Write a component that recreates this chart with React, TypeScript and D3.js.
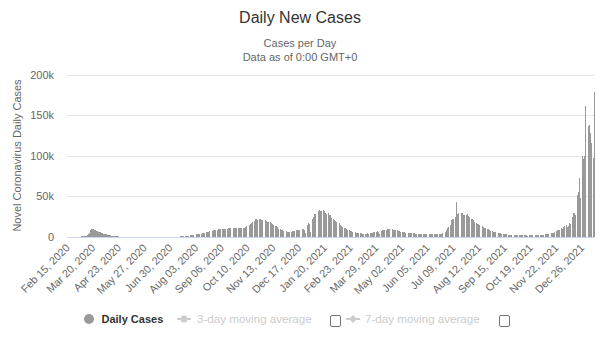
import React from 'react';
import * as d3 from 'd3';

// Daily new cases, in thousands, one row per week (Sat..Fri), starting Sat Feb 15, 2020
const START_DATE = '2020-02-15';
const dailyCasesK: number[] = [
  0, 0, 0, 0, 0, 0, 0,
  0, 0, 0, 0, 0, 0, 0,
  0, 0, 0, 0, 0, 0.1, 0.1,
  0.1, 0.2, 0.3, 0.5, 0.8, 1.2, 1.8,
  3.0, 4.5, 6.0, 7.5, 8.8, 9.4, 8.6,
  8.9, 7.9, 7.5, 7.0, 6.8, 6.3, 5.8,
  5.4, 5.0, 4.6, 4.4, 4.0, 3.7, 3.4,
  3.2, 2.9, 2.7, 2.4, 2.2, 2.0, 1.8,
  1.6, 1.4, 1.2, 1.1, 0.9, 0.8, 0.7,
  0.5, 0.4, 0.3, 0.2, 0.2, 0, 0,
  0, 0, 0, 0, 0, 0, 0,
  0, 0, 0, 0, 0, 0, 0,
  0, 0, 0, 0, 0, 0, 0,
  0, 0, 0, 0, 0, 0, 0,
  0, 0, 0, 0, 0, 0, 0,
  0, 0, 0, 0, 0, 0, 0,
  0, 0, 0, 0, 0, 0, 0,
  0, 0, 0, 0, 0, 0, 0,
  0, 0, 0, 0, 0, 0, 0,
  0, 0, 0, 0, 0, 0, 0,
  0, 0, 0, 0, 0, 0, 0,
  0, 0, 0.4, 0.5, 0.5, 0.6, 0.6,
  0, 0, 0.8, 0.9, 1.0, 1.1, 1.2,
  0, 0, 1.4, 1.5, 1.7, 1.9, 2.0,
  0, 0, 2.3, 2.5, 2.7, 2.9, 3.2,
  0, 0, 3.5, 3.7, 4.0, 4.3, 4.6,
  0, 0, 5.0, 5.4, 5.8, 6.1, 6.4,
  0, 0, 6.8, 7.2, 7.5, 7.8, 8.1,
  0, 0, 8.4, 8.6, 8.8, 9.0, 9.2,
  0, 0, 9.4, 9.3, 9.6, 9.8, 9.5,
  0, 0, 9.8, 10.1, 10.3, 10.0, 10.5,
  0, 0, 9.6, 10.2, 10.5, 10.0, 10.4,
  0, 0, 10.2, 10.0, 10.6, 10.3, 10.0,
  0, 0, 10.5, 11.0, 11.5, 12.0, 12.5,
  0, 0, 13.0, 14.5, 15.5, 16.5, 17.5,
  0, 0, 19.0, 20.5, 21.5, 21.0, 20.0,
  0, 0, 21.5, 21.0, 20.5, 20.0, 19.5,
  0, 0, 20.0, 19.5, 19.0, 18.0, 17.5,
  0, 0, 18.5, 17.0, 16.0, 15.0, 14.0,
  0, 0, 13.5, 12.5, 11.5, 10.5, 9.5,
  0, 0, 9.0, 8.0, 7.5, 7.0, 6.5,
  0, 0, 6.5, 6.0, 5.8, 5.5, 5.5,
  0, 0, 6.0, 6.5, 7.0, 7.0, 6.8,
  0, 0, 7.5, 8.0, 8.5, 8.0, 8.2,
  0, 0, 9.0, 9.5, 9.8, 8.5, 4.0,
  0, 0, 14.0, 16.0, 17.0, 15.0, 5.0,
  0, 0, 22.0, 24.0, 26.0, 27.5, 28.0,
  0, 0, 30.0, 31.5, 33.0, 32.0, 31.0,
  0, 0, 32.5, 31.0, 30.5, 29.0, 28.0,
  0, 0, 29.0, 27.0, 26.0, 24.5, 23.0,
  0, 0, 22.0, 20.0, 19.0, 18.0, 17.0,
  0, 0, 16.5, 15.0, 14.0, 13.0, 12.0,
  0, 0, 11.0, 10.0, 9.5, 9.0, 8.0,
  0, 0, 7.5, 7.0, 6.5, 6.0, 5.5,
  0, 0, 5.0, 4.8, 4.5, 4.2, 4.0,
  0, 0, 4.0, 3.8, 3.6, 3.5, 3.4,
  0, 0, 3.5, 3.6, 4.0, 3.8, 3.5,
  0, 0, 4.2, 4.5, 4.8, 5.0, 5.0,
  0, 0, 5.5, 6.0, 6.2, 5.0, 3.0,
  0, 0, 6.5, 7.5, 8.0, 8.5, 8.2,
  0, 0, 8.5, 9.0, 9.2, 8.8, 8.5,
  0, 0, 8.8, 9.0, 8.5, 8.0, 7.5,
  0, 0, 7.5, 7.0, 6.5, 6.5, 6.0,
  0, 0, 5.5, 5.0, 5.0, 4.5, 4.5,
  0, 0, 4.5, 4.2, 4.0, 4.0, 3.8,
  0, 0, 4.0, 3.8, 3.6, 3.5, 3.4,
  0, 0, 3.5, 3.4, 3.2, 3.0, 3.0,
  0, 0, 3.2, 3.0, 3.0, 2.8, 2.8,
  0, 0, 3.0, 3.0, 2.8, 2.8, 2.6,
  0, 0, 2.8, 2.8, 2.6, 2.6, 2.5,
  0, 0, 3.0, 3.2, 3.5, 3.8, 4.0,
  0, 0, 4.5, 6.0, 8.0, 10.0, 12.0,
  0, 0, 14.0, 17.0, 20.0, 21.0, 22.0,
  0, 0, 24.0, 42.0, 28.0, 29.0, 28.0,
  0, 0, 29.5, 28.0, 29.0, 27.0, 26.0,
  0, 0, 27.0, 28.0, 26.0, 25.0, 24.0,
  0, 0, 22.0, 21.0, 20.0, 19.5, 18.0,
  0, 0, 17.0, 16.0, 15.0, 14.5, 13.5,
  0, 0, 13.0, 12.0, 11.5, 10.5, 10.0,
  0, 0, 9.5, 9.0, 8.5, 7.5, 7.0,
  0, 0, 6.5, 6.0, 5.5, 5.0, 4.8,
  0, 0, 4.6, 4.4, 4.2, 4.0, 3.6,
  0, 0, 3.4, 3.2, 3.0, 2.8, 2.6,
  0, 0, 2.4, 2.2, 2.0, 1.9, 1.8,
  0, 0, 2.0, 1.8, 1.7, 1.6, 1.5,
  0, 0, 1.8, 1.6, 1.5, 1.4, 1.3,
  0, 0, 1.5, 1.4, 1.3, 1.3, 1.2,
  0, 0, 1.6, 1.5, 1.4, 1.4, 1.3,
  0, 0, 1.8, 1.7, 1.7, 1.6, 1.5,
  0, 0, 2.2, 2.0, 2.1, 2.0, 1.9,
  0, 0, 3.0, 2.8, 3.0, 3.2, 3.0,
  0, 0, 4.5, 4.2, 4.5, 4.8, 5.0,
  0, 0, 7.0, 6.5, 7.5, 8.0, 8.5,
  0, 0, 10.5, 9.5, 11.0, 12.0, 12.5,
  0, 0, 14.0, 12.0, 13.0, 17.0, 16.0,
  0, 0, 24.0, 26.0, 28.5, 29.0, 27.0,
  0, 0, 51.0, 55.0, 72.0, 60.0, 48.0,
  0, 0, 100.0, 96.0, 99.0, 161.0, 93.0,
  0, 0, 136.0, 118.0, 138.0, 128.0, 115.0,
  0, 0, 97.0, 179.0,
];

const tickLabels = [
  'Feb 15, 2020', 'Mar 20, 2020', 'Apr 23, 2020', 'May 27, 2020', 'Jun 30, 2020',
  'Aug 03, 2020', 'Sep 06, 2020', 'Oct 10, 2020', 'Nov 13, 2020', 'Dec 17, 2020',
  'Jan 20, 2021', 'Feb 23, 2021', 'Mar 29, 2021', 'May 02, 2021', 'Jun 05, 2021',
  'Jul 09, 2021', 'Aug 12, 2021', 'Sep 15, 2021', 'Oct 19, 2021', 'Nov 22, 2021',
  'Dec 26, 2021',
];

const yTicks = [0, 50000, 100000, 150000, 200000];

const titleText = 'Daily New Cases';
const subtitleLines = ['Cases per Day', 'Data as of 0:00 GMT+0'];
const yAxisTitle = 'Novel Coronavirus Daily Cases';
const legendItems = ['Daily Cases', '3-day moving average', '7-day moving average'];

const FONT = '"Liberation Sans", Arial, Helvetica, sans-serif';
const W = 600;
const H = 340;
const PLOT = { left: 67, right: 594.5, top: 74.5, bottom: 236.5 };
const BAR_COLOR = '#999999';

export default function App() {
  const values = dailyCasesK.map((v) => v * 1000);
  const start = d3.timeParse('%Y-%m-%d')(START_DATE) as Date;
  const fmt = d3.timeFormat('%b %d, %Y');
  const categories = values.map((_, i) => fmt(d3.timeDay.offset(start, i)));

  const x = d3
    .scaleBand<string>()
    .domain(categories)
    .range([PLOT.left, PLOT.right])
    .paddingInner(0)
    .paddingOuter(0);
  const y = d3.scaleLinear().domain([0, 200000]).range([PLOT.bottom, PLOT.top]);
  const bw = x.bandwidth();

  const yFmt = (d: number) => (d === 0 ? '0' : `${d / 1000}k`);

  return (
    <svg
      width={W}
      height={H}
      style={{ position: 'absolute', left: 0, top: 0, background: '#fff' }}
      fontFamily={FONT}
    >
      <rect x={0} y={0} width={W} height={H} fill="#fff" />
      {/* Titles */}
      <text x={W / 2} y={23} textAnchor="middle" fontSize={16} fill="#333">
        {titleText}
      </text>
      {subtitleLines.map((s, i) => (
        <text key={s} x={W / 2} y={47 + i * 14} textAnchor="middle" fontSize={11} fill="#666">
          {s}
        </text>
      ))}

      {/* Grid lines */}
      {yTicks.map((t) => (
        <g key={t}>
          {t !== 0 && (
            <line
              x1={PLOT.left}
              x2={PLOT.right}
              y1={Math.round(y(t)) + 0.5}
              y2={Math.round(y(t)) + 0.5}
              stroke="#e6e6e6"
              strokeWidth={1}
            />
          )}
          <text x={54} y={y(t) + 4} textAnchor="end" fontSize={11} fill="#666">
            {yFmt(t)}
          </text>
        </g>
      ))}

      {/* Bars */}
      <g fill={BAR_COLOR} shapeRendering="crispEdges">
        {values.map((v, i) =>
          v > 0 ? (
            <rect
              key={i}
              x={x(categories[i])}
              y={y(v)}
              width={Math.max(bw, 1)}
              height={PLOT.bottom - y(v)}
            />
          ) : null
        )}
      </g>

      {/* X axis line */}
      <line
        x1={PLOT.left}
        x2={PLOT.right}
        y1={Math.round(PLOT.bottom) + 0.5}
        y2={Math.round(PLOT.bottom) + 0.5}
        stroke="#ccd6eb"
        strokeWidth={1}
      />

      {/* X labels */}
      {tickLabels.map((lab) => {
        const idx = categories.indexOf(lab);
        if (idx < 0) return null;
        const tx = (x(categories[idx]) as number) + bw / 2;
        return (
          <text
            key={lab}
            transform={`translate(${tx + 3},${PLOT.bottom + 12}) rotate(-45)`}
            textAnchor="end"
            fontSize={10.8}
            fill="#666"
          >
            {lab}
          </text>
        );
      })}

      {/* Y axis title */}
      <text
        transform={`translate(21,${(PLOT.top + PLOT.bottom) / 2}) rotate(-90)`}
        textAnchor="middle"
        fontSize={11}
        fill="#666"
      >
        {yAxisTitle}
      </text>

      {/* Legend */}
      <g>
        <circle cx={89} cy={319} r={5} fill={BAR_COLOR} />
        <text x={101.5} y={323} fontSize={11} fontWeight="bold" fill="#333">
          {legendItems[0]}
        </text>

        <line x1={177} x2={191} y1={319} y2={319} stroke="#cccccc" strokeWidth={2} />
        <circle cx={184} cy={319} r={3.5} fill="#cccccc" />
        <text x={197} y={323} fontSize={11.6} fill="#cccccc">
          {legendItems[1]}
        </text>
        <rect x={330.5} y={315.5} width={10} height={11} rx={1.5} fill="#fff" stroke="#767676" strokeWidth={1} />

        <line x1={346} x2={360} y1={319} y2={319} stroke="#cccccc" strokeWidth={2} />
        <path d="M353,315 L357,319 L353,323 L349,319 Z" fill="#cccccc" />
        <text x={365} y={323} fontSize={11.6} fill="#cccccc">
          {legendItems[2]}
        </text>
        <rect x={499.5} y={315.5} width={10} height={11} rx={1.5} fill="#fff" stroke="#767676" strokeWidth={1} />
      </g>
    </svg>
  );
}
